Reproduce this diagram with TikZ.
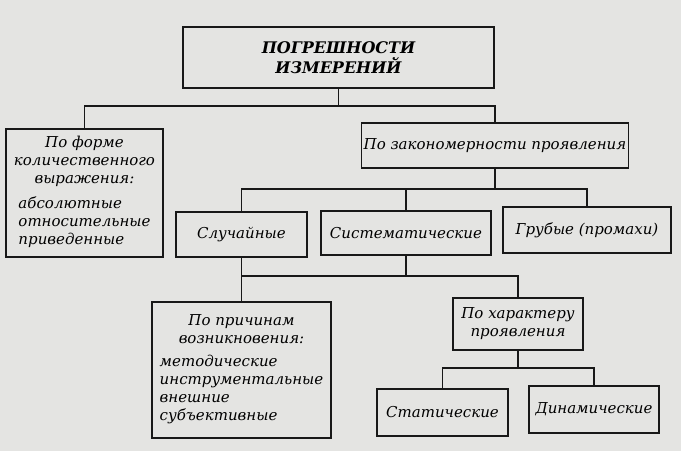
\documentclass[tikz,border=0pt]{standalone}
\usepackage{fontspec}
\setmainfont{DejaVu Serif}
\usepackage{tikz}
\definecolor{mypaper}{RGB}{228,228,226}
\definecolor{mydark}{RGB}{24,24,24}
\tikzset{
  line/.style={draw=mydark, line width=1.6pt},
  box/.style={draw=mydark, line width=1.6pt, rectangle, inner sep=2pt, align=center, font=\fontsize{15}{18}\selectfont\itshape},
  topbox/.style={box, font=\fontsize{16}{20}\selectfont\bfseries\itshape}
}

\begin{document}
\begin{tikzpicture}[x=1pt, y=-1pt]
  \fill [mypaper] (0,0) rectangle (681,451);
  \useasboundingbox (0,0) rectangle (681,451);

  \node [topbox, minimum width=311pt, minimum height=61pt] (root) at (338.5,57.5) {ПОГРЕШНОСТИ\\ИЗМЕРЕНИЙ};
  \node [box, minimum width=157pt, minimum height=128pt] (form) at (84.5,193)
    {По форме\\количественного\\выражения:\\[9pt]\begin{tabular}{@{}l@{}}абсолютные\\относительные\\приведенные\end{tabular}};
  \node [box, minimum width=261pt, minimum height=45pt] (zak) at (495,145.5) {По закономерности проявления};

  \node [box, minimum width=131pt, minimum height=45pt] (slu) at (241.5,234.5) {Случайные};
  \node [box, minimum width=170pt, minimum height=44pt] (sys) at (406,233) {Систематические};
  \node [box, minimum width=168pt, minimum height=46pt] (gru) at (587,230) {Грубые (промахи)};

  \node [box, minimum width=179pt, minimum height=136pt] (prich) at (241.5,370)
    {По причинам\\возникновения:\\[9pt]\begin{tabular}{@{}l@{}}методические\\инструментальные\\внешние\\субъективные\end{tabular}};
  \node [box, minimum width=130pt, minimum height=52pt] (har) at (518,324) {По характеру\\проявления};

  \node [box, minimum width=131pt, minimum height=47pt] (stat) at (442.5,412.5) {Статические};
  \node [box, minimum width=130pt, minimum height=47pt] (dyn) at (594,409.5) {Динамические};

  \coordinate (b1) at (338.5,106);
  \coordinate (b3) at (0,276);

  \draw [line] (root) -- (b1);
  \draw [line] (form.north) |- (b1) -| (zak.north);

  \draw [line] (zak.south) -- ++(0,20) coordinate (b2);
  \draw [line] (slu.north) |- (b2) -| (gru.north);
  \draw [line] (sys.north) -- (sys.north |- b2);

  \draw [line] (slu) -- (prich);
  \draw [line] (sys.south) -- (sys.south |- b3);
  \draw [line] (slu.south |- b3) -| (har.north);

  \draw [line] (har.south) -- ++(0,17) coordinate (b4);
  \draw [line] (stat.north) |- (b4) -| (dyn.north);
\end{tikzpicture}
\end{document}
